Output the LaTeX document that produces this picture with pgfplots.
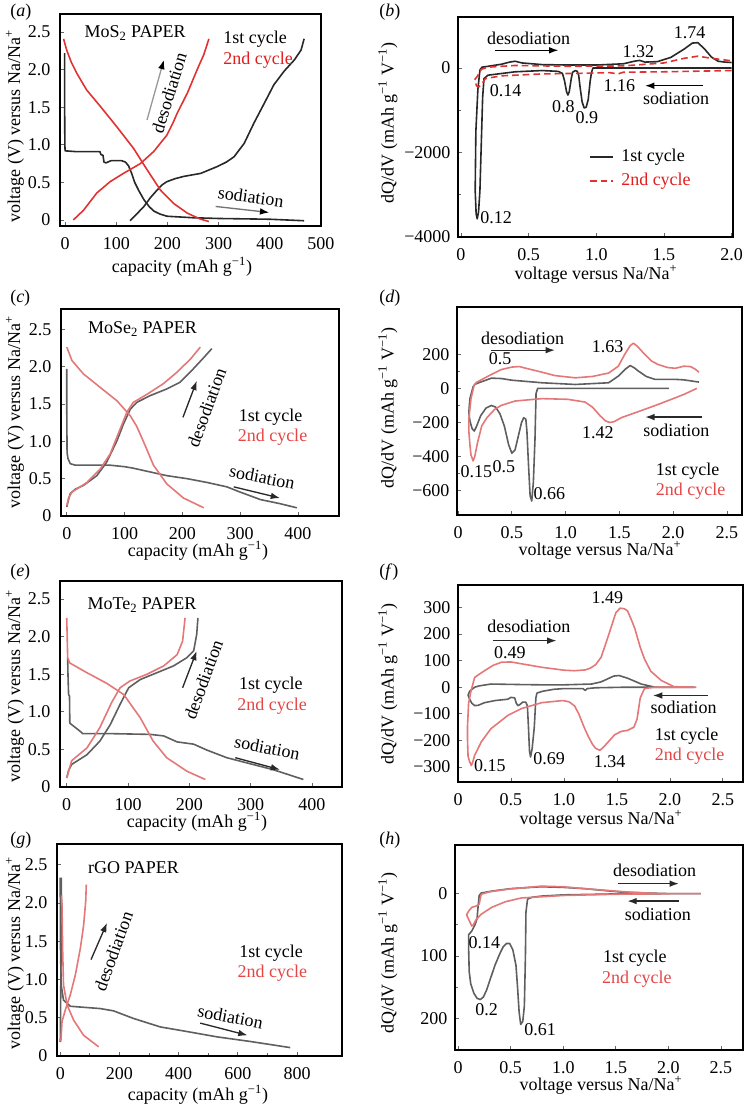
\documentclass[border=0pt]{standalone}
\usepackage{fontspec}
\setmainfont{Liberation Serif}
\usepackage{pgfplots}
\pgfplotsset{compat=1.18}
\usetikzlibrary{arrows.meta}
\definecolor{cblack}{RGB}{40,40,40}
\definecolor{cgray}{RGB}{95,95,95}
\definecolor{cred}{RGB}{225,50,50}
\definecolor{cpink}{RGB}{228,120,120}
\definecolor{tred}{RGB}{225,30,30}
\definecolor{tpink}{RGB}{228,70,70}
\pgfplotsset{panel/.style={scale only axis, anchor=south west,
  axis line style={line width=2pt}, tick align=inside,
  xtick pos=bottom, ytick pos=left, major tick length=3pt, minor tick length=2pt,
  tick style={black!60, line width=0.6pt}, clip mode=individual,
  /pgf/number format/assume math mode=true,
  every axis plot/.append style={line width=1.2pt, line join=round},
  xticklabel style={yshift=-4pt}, yticklabel style={xshift=-2.5pt}},
  rpanel/.style={panel, yticklabel style={xshift=1.5pt}}}
\tikzset{arr/.style={line width=1pt, -{Latex[length=7pt,width=5pt]}}}
\begin{document}
\fontsize{13.5}{16}\selectfont
\begin{tikzpicture}
\useasboundingbox (0,0) rectangle (561.75pt,-828pt);
% (a)
\begin{axis}[panel, at={(45pt,-169.5pt)}, width=195.75pt, height=159pt,
  xmin=-10, xmax=500, ymin=-0.08, ymax=2.74, xtick={0,100,200,300,400,500},
  ytick={0,0.5,1,1.5,2,2.5}, yticklabels={0,0.5,1.0,1.5,2.0,2.5}]
\addplot[cblack] coordinates {(-1,2.22) (-1,1.6) (-0.5,1.0) (0,0.92) (20,0.91) (50,0.91) (68,0.91) (70,0.87) (74,0.86) (76,0.77) (80,0.76) (90,0.79) (110,0.79) (118,0.77) (124,0.72) (130,0.62) (136,0.5) (144,0.39) (154,0.27) (164,0.18) (173,0.12) (185,0.08) (199,0.05) (250,0.03) (300,0.02) (400,0.01) (467,-0.01)};
\addplot[cblack] coordinates {(127,-0.01) (140,0.08) (154,0.18) (167,0.3) (180,0.4) (190,0.47) (199,0.51) (215,0.55) (232,0.58) (265,0.62) (297,0.71) (315,0.77) (330,0.84) (350,1.02) (369,1.29) (389,1.55) (408,1.8) (428,1.98) (448,2.13) (461,2.26) (467,2.41)};
\addplot[cred] coordinates {(-3,2.41) (3,2.26) (12,2.1) (23,1.95) (42,1.73) (69,1.51) (101,1.24) (134,0.95) (160,0.67) (186,0.40) (212,0.22) (239,0.09) (265,0.01) (281,-0.02)};
\addplot[cred] coordinates {(16,0) (36,0.13) (62,0.36) (88,0.51) (114,0.62) (147,0.75) (173,0.91) (199,1.13) (210,1.28) (219,1.42) (239,1.69) (258,2.0) (271,2.2) (281,2.41)};
\node[anchor=west] at (axis cs:26,2.49) {MoS\textsubscript{2} PAPER};
\node[anchor=west] at (axis cs:297,2.4) {1st cycle};
\node[anchor=west, text=tred] at (axis cs:297,2.12) {2nd cycle};
\node[rotate=73] at (axis cs:203,1.69) {desodiation};
\draw[line width=1pt, black!40, -{Latex[length=7pt,width=5pt,color=black]}] (axis cs:160,1.33) -- (axis cs:193,2.13);
\node[rotate=-8] at (axis cs:363,0.31) {sodiation};
\draw[line width=1pt, black!55, -{Latex[length=7pt,width=5pt,color=black]}] (axis cs:294,0.18) -- (axis cs:399,0.1);
\end{axis}
% (b)
\begin{axis}[rpanel, at={(343.5pt,-177.75pt)}, width=206.25pt, height=165pt,
  xmin=-0.022, xmax=2.01, ymin=-4000, ymax=1207, xtick={0,0.5,1,1.5,2},
  xticklabels={0,0.5,1.0,1.5,2.0}, ytick={-4000,-2000,0},
  yticklabels={−4000,−2000,0}, minor y tick num=1]
\addplot[cblack] coordinates {(2.00,0) (1.50,0) (0.975,0) (0.965,-100) (0.955,-300) (0.94,-750) (0.925,-930) (0.91,-945) (0.895,-800) (0.88,-450) (0.87,-180) (0.86,-80) (0.845,-60) (0.825,-100) (0.815,-250) (0.80,-560) (0.79,-640) (0.78,-560) (0.765,-300) (0.75,-130) (0.72,-80) (0.6,-60) (0.4,-90) (0.2,-170) (0.17,-250) (0.16,-700) (0.15,-1800) (0.14,-2900) (0.13,-3400) (0.12,-3570) (0.112,-3450) (0.105,-2900) (0.11,-1500) (0.125,-500) (0.14,-50) (0.155,20) (0.2,40) (0.3,90) (0.36,140) (0.4,160) (0.45,120) (0.6,80) (0.8,70) (1.0,70) (1.2,100) (1.28,160) (1.32,180) (1.36,140) (1.45,150) (1.55,250) (1.65,450) (1.71,590) (1.75,600) (1.8,450) (1.85,260) (1.9,160) (1.95,140) (2.0,130)};
\addplot[cred, dash pattern=on 5pt off 3pt] coordinates {(2.0,-60) (1.5,-90) (1.2,-100) (1.16,-140) (1.1,-110) (0.9,-125) (0.6,-140) (0.3,-185) (0.18,-250) (0.15,-400) (0.13,-450) (0.115,-420) (0.10,-280) (0.12,-200) (0.15,-30) (0.2,20) (0.4,60) (0.8,40) (1.2,50) (1.5,120) (1.65,230) (1.75,280) (1.85,230) (2.0,170)};
\node at (axis cs:0.50,711) {desodiation};
\draw[arr] (axis cs:0.25,419) -- (axis cs:0.72,419);
\node at (axis cs:1.69,830) {1.74};
\node at (axis cs:1.31,395) {1.32};
\node at (axis cs:0.33,-530) {0.14};
\node at (axis cs:0.756,-925) {0.8};
\node at (axis cs:0.93,-1186) {0.9};
\node at (axis cs:1.17,-419) {1.16};
\node at (axis cs:1.59,-727) {sodiation};
\draw[arr] (axis cs:1.79,-419) -- (axis cs:1.36,-419);
\node at (axis cs:0.26,-3534) {0.12};
\draw[cblack, line width=1.2pt] (axis cs:0.953,-2110) -- (axis cs:1.126,-2110);
\node[anchor=west] at (axis cs:1.138,-2110) {1st cycle};
\draw[cred, line width=1.2pt, dash pattern=on 5pt off 3pt] (axis cs:0.953,-2672) -- (axis cs:1.126,-2672);
\node[anchor=west, text=tred] at (axis cs:1.138,-2672) {2nd cycle};
\end{axis}
% (c)
\begin{axis}[panel, at={(45.75pt,-387pt)}, width=208.5pt, height=155.25pt,
  xmin=-10, xmax=471, ymin=0, ymax=2.77, xtick={0,100,200,300,400},
  ytick={0,0.5,1,1.5,2,2.5}, yticklabels={0,0.5,1.0,1.5,2.0,2.5}]
\addplot[cgray] coordinates {(0,1.97) (0,1.4) (0.5,0.85) (2,0.77) (6,0.70) (15,0.68) (23,0.68) (75,0.68) (100,0.66) (115,0.64) (144,0.59) (173,0.54) (208,0.50) (242,0.45) (277,0.39) (300,0.32) (335,0.22) (369,0.165) (398,0.11)};
\addplot[cgray] coordinates {(0,0.12) (3,0.22) (6,0.30) (15,0.36) (29,0.41) (52,0.54) (69,0.72) (87,1.01) (98,1.23) (110,1.43) (121,1.52) (144,1.61) (173,1.70) (196,1.79) (219,1.97) (237,2.12) (251,2.24)};
\addplot[cpink] coordinates {(0,2.26) (9,2.08) (29,1.90) (58,1.72) (87,1.54) (110,1.34) (121,1.2) (133,0.99) (150,0.68) (173,0.43) (202,0.24) (237,0.11)};
\addplot[cpink] coordinates {(0,0.14) (3,0.24) (9,0.32) (35,0.45) (58,0.63) (75,0.83) (89,1.10) (104,1.39) (115,1.52) (139,1.63) (167,1.77) (190,1.92) (214,2.10) (231,2.26)};
\node[anchor=west] at (axis cs:26,2.5) {MoSe\textsubscript{2} PAPER};
\node[anchor=west] at (axis cs:287,1.32) {1st cycle};
\node[anchor=west, text=tpink] at (axis cs:285,1.06) {2nd cycle};
\node[rotate=70] at (axis cs:242,1.45) {desodiation};
\draw[arr, cblack] (axis cs:201,1.32) -- (axis cs:225,1.81);
\node[rotate=-11] at (axis cs:338,0.52) {sodiation};
\draw[arr, cblack] (axis cs:289,0.39) -- (axis cs:369,0.24);
\end{axis}
% (d)
\begin{axis}[rpanel, at={(342.75pt,-386.25pt)}, width=213.75pt, height=156pt,
  xmin=-0.01, xmax=2.64, ymin=-742, ymax=477, xtick={0,0.5,1,1.5,2,2.5},
  xticklabels={0,0.5,1.0,1.5,2.0,2.5}, ytick={-600,-400,-200,0,200},
  yticklabels={−600,−400,−200,0,200}, minor y tick num=1]
\addplot[cgray] coordinates {(1.96,0) (1.2,0) (0.74,0) (0.725,-30) (0.715,-300) (0.70,-550) (0.685,-660) (0.67,-630) (0.655,-450) (0.64,-250) (0.63,-180) (0.61,-172) (0.59,-200) (0.56,-280) (0.53,-360) (0.50,-380) (0.47,-330) (0.43,-220) (0.39,-150) (0.35,-110) (0.31,-100) (0.26,-115) (0.21,-160) (0.17,-225) (0.15,-250) (0.13,-235) (0.11,-190) (0.10,-140) (0.11,-60) (0.14,10) (0.16,25) (0.2,35) (0.31,60) (0.4,58) (0.5,48) (0.78,33) (1.09,23) (1.40,33) (1.49,72) (1.56,115) (1.6,134) (1.64,120) (1.68,100) (1.75,70) (1.83,53) (2.02,53) (2.1,50) (2.24,37)};
\addplot[cpink] coordinates {(2.22,0) (2.1,-35) (2.02,-55) (1.86,-94) (1.65,-142) (1.52,-171) (1.45,-195) (1.41,-200) (1.37,-190) (1.32,-160) (1.25,-110) (1.18,-80) (1.02,-64) (0.78,-60) (0.53,-74) (0.4,-100) (0.34,-123) (0.27,-170) (0.22,-220) (0.18,-320) (0.155,-400) (0.14,-425) (0.12,-390) (0.11,-330) (0.10,-250) (0.10,-180) (0.12,-60) (0.15,20) (0.17,35) (0.25,62) (0.32,85) (0.40,110) (0.5,125) (0.57,128) (0.65,115) (0.78,95) (0.9,75) (1.09,62) (1.25,70) (1.40,90) (1.49,130) (1.55,200) (1.60,250) (1.63,265) (1.67,245) (1.72,210) (1.8,160) (1.86,140) (1.95,122) (2.02,118) (2.1,130) (2.16,128) (2.2,115) (2.24,95)};
\node at (axis cs:0.60,296) {desodiation};
\draw[arr, cblack] (axis cs:0.31,224) -- (axis cs:0.90,224);
\node at (axis cs:0.39,175) {0.5};
\node at (axis cs:1.39,247) {1.63};
\node at (axis cs:1.30,-259) {1.42};
\node at (axis cs:2.03,-243) {sodiation};
\draw[arr, cblack] (axis cs:2.27,-168) -- (axis cs:1.74,-168);
\node at (axis cs:0.17,-489) {0.15};
\node at (axis cs:0.425,-458) {0.5};
\node at (axis cs:0.85,-614) {0.66};
\node[anchor=west] at (axis cs:1.78,-483) {1st cycle};
\node[anchor=west, text=tpink] at (axis cs:1.78,-600) {2nd cycle};
\end{axis}
% (e)
\begin{axis}[panel, at={(45pt,-590.25pt)}, width=211.5pt, height=154.5pt,
  xmin=-11, xmax=449, ymin=0, ymax=2.74, xtick={0,100,200,300,400},
  ytick={0,0.5,1,1.5,2,2.5}, yticklabels={0,0.5,1.0,1.5,2.0,2.5}]
\addplot[cgray] coordinates {(1.5,1.72) (2,1.5) (3,1.23) (4.5,1.21) (5,0.85) (8,0.83) (22,0.74) (26,0.71) (71,0.71) (136,0.70) (158,0.68) (180,0.60) (207,0.57) (229,0.49) (261,0.39) (299,0.31) (337,0.23) (386,0.10)};
\addplot[cgray] coordinates {(0,0.12) (3,0.22) (8,0.30) (33,0.43) (54,0.61) (71,0.83) (87,1.10) (101,1.32) (120,1.43) (147,1.52) (174,1.61) (196,1.72) (207,1.81) (212,2.03) (214,2.25)};
\addplot[cpink] coordinates {(0,2.25) (1.5,1.72) (5,1.65) (33,1.52) (65,1.38) (93,1.23) (120,0.92) (141,0.61) (163,0.39) (196,0.21) (226,0.10)};
\addplot[cpink] coordinates {(0,0.12) (8,0.35) (33,0.52) (54,0.79) (73,1.12) (87,1.32) (103,1.41) (131,1.50) (158,1.61) (180,1.76) (189,1.94) (193,2.25)};
\node[anchor=west] at (axis cs:24,2.42) {MoTe\textsubscript{2} PAPER};
\node[anchor=west] at (axis cs:271,1.35) {1st cycle};
\node[anchor=west, text=tpink] at (axis cs:268,1.08) {2nd cycle};
\node[rotate=70] at (axis cs:223,1.43) {desodiation};
\draw[arr, cblack] (axis cs:189,1.32) -- (axis cs:212,1.81);
\node[rotate=-11] at (axis cs:327,0.52) {sodiation};
\draw[arr, cblack] (axis cs:275,0.39) -- (axis cs:348,0.23);
\end{axis}
% (f)
\begin{axis}[rpanel, at={(343.5pt,-586.5pt)}, width=213.75pt, height=147.75pt,
  xmin=0, xmax=2.69, ymin=-356, ymax=384, xtick={0,0.5,1,1.5,2,2.5},
  xticklabels={0,0.5,1.0,1.5,2.0,2.5}, ytick={-300,-200,-100,0,100,200,300},
  yticklabels={−300,−200,−100,0,100,200,300}]
\addplot[cgray] coordinates {(2.23,0) (1.9,0) (1.57,0) (1.3,-2) (1.22,-5) (1.2,-12) (1.18,-5) (1.0,-5) (0.9,-8) (0.8,-15) (0.76,-20) (0.745,-22) (0.735,-40) (0.72,-150) (0.70,-230) (0.685,-262) (0.675,-240) (0.665,-150) (0.655,-70) (0.64,-56) (0.61,-56) (0.585,-65) (0.565,-69) (0.55,-60) (0.535,-40) (0.5,-38) (0.47,-45) (0.35,-50) (0.25,-58) (0.19,-68) (0.157,-69) (0.13,-60) (0.11,-45) (0.095,-30) (0.11,-15) (0.157,0) (0.2,5) (0.31,12) (0.6,10) (0.79,9) (1.0,9) (1.26,12) (1.35,20) (1.41,31) (1.47,42) (1.52,44) (1.6,34) (1.73,12) (1.86,0) (2.23,0)};
\addplot[cpink] coordinates {(2.25,0) (1.85,0) (1.76,-5) (1.72,-40) (1.69,-120) (1.66,-150) (1.6,-162) (1.54,-166) (1.48,-178) (1.43,-200) (1.38,-222) (1.34,-237) (1.30,-230) (1.27,-215) (1.23,-185) (1.19,-150) (1.14,-100) (1.10,-70) (1.05,-55) (0.99,-50) (0.79,-58) (0.6,-80) (0.47,-106) (0.31,-156) (0.22,-205) (0.157,-256) (0.14,-280) (0.126,-294) (0.11,-280) (0.095,-260) (0.09,-200) (0.09,-144) (0.10,-60) (0.12,-19) (0.157,37) (0.25,62) (0.33,82) (0.41,94) (0.5,95) (0.6,88) (0.79,75) (1.0,64) (1.10,62) (1.2,65) (1.25,72) (1.3,85) (1.35,112) (1.40,170) (1.45,231) (1.49,280) (1.53,297) (1.57,295) (1.60,287) (1.64,250) (1.67,219) (1.72,150) (1.76,106) (1.82,60) (1.92,25) (2.04,2) (2.25,0)};
\node at (axis cs:1.41,337) {1.49};
\node at (axis cs:0.67,229) {desodiation};
\draw[arr, cblack] (axis cs:0.33,175) -- (axis cs:0.93,175);
\node at (axis cs:0.49,131) {0.49};
\node at (axis cs:2.13,-75) {sodiation};
\draw[arr, cblack] (axis cs:2.36,-31) -- (axis cs:1.84,-31);
\node[anchor=west] at (axis cs:1.80,-185) {1st cycle};
\node[anchor=west, text=tpink] at (axis cs:1.80,-259) {2nd cycle};
\node at (axis cs:0.86,-269) {0.69};
\node at (axis cs:1.43,-279) {1.34};
\node at (axis cs:0.30,-294) {0.15};
\end{axis}
% (g)
\begin{axis}[panel, at={(42.75pt,-792pt)}, width=213.75pt, height=159pt,
  xmin=-11, xmax=952, ymin=0, ymax=2.77, xtick={0,200,400,600,800}, minor x tick num=1,
  ytick={0,0.5,1,1.5,2,2.5}, yticklabels={0,0.5,1.0,1.5,2.0,2.5}]
\addplot[cgray] coordinates {(0,2.33) (0.5,1.5) (3,0.93) (11,0.73) (34,0.65) (135,0.62) (180,0.59) (248,0.49) (338,0.38) (428,0.32) (530,0.25) (642,0.19) (777,0.11)};
\addplot[cgray] coordinates {(0,0.18) (1,0.5) (2,1.0) (3,1.6) (4,2.0) (4,2.33)};
\addplot[cpink] coordinates {(4,2.1) (6,1.98) (8,1.4) (11,0.93) (23,0.67) (45,0.47) (79,0.27) (130,0.12)};
\addplot[cpink] coordinates {(2,0.19) (6,0.45) (17,0.60) (34,0.80) (51,1.06) (68,1.41) (79,1.71) (86,2.02) (88,2.24)};
\node[anchor=west] at (axis cs:73,2.46) {rGO PAPER};
\node[anchor=west] at (axis cs:584,1.34) {1st cycle};
\node[anchor=west, text=tpink] at (axis cs:578,1.08) {2nd cycle};
\node[rotate=70] at (axis cs:180,1.37) {desodiation};
\draw[arr, cblack] (axis cs:104,1.26) -- (axis cs:158,1.74);
\node[rotate=-11] at (axis cs:575,0.51) {sodiation};
\draw[arr, cblack] (axis cs:473,0.43) -- (axis cs:633,0.27);
\end{axis}
% (h)
\begin{axis}[rpanel, at={(341.25pt,-787.5pt)}, width=216pt, height=153.75pt,
  xmin=-0.03, xmax=2.71, ymin=-78, ymax=251, y dir=reverse,
  xtick={0,0.5,1,1.5,2,2.5}, xticklabels={0,0.5,1.0,1.5,2.0,2.5},
  ytick={0,100,200}, minor y tick num=1]
\addplot[cgray] coordinates {(2.09,0) (1.5,0.5) (1.0,2) (0.79,4) (0.70,6) (0.66,9) (0.645,30) (0.64,100) (0.63,180) (0.615,205) (0.595,210) (0.58,190) (0.565,150) (0.55,115) (0.52,90) (0.49,80) (0.46,80) (0.43,85) (0.40,95) (0.35,115) (0.31,135) (0.27,155) (0.24,166) (0.21,170) (0.18,168) (0.15,160) (0.12,145) (0.105,125) (0.1,90) (0.1,66) (0.13,60) (0.16,50) (0.18,40) (0.19,20) (0.2,3) (0.22,-1) (0.32,-4) (0.5,-8) (0.79,-11) (1.0,-10) (1.2,-8) (1.58,-2) (2.0,0) (2.31,0)};
\addplot[cpink] coordinates {(2.09,0) (1.5,1) (1.0,3) (0.6,7) (0.45,13) (0.32,22) (0.22,33) (0.17,42) (0.145,50) (0.13,52) (0.11,45) (0.08,34) (0.1,28) (0.13,22) (0.17,20) (0.2,17) (0.21,8) (0.22,1) (0.3,-3) (0.47,-7) (0.79,-12) (1.0,-11) (1.2,-8) (1.58,-3) (1.9,0) (2.31,0)};
\node at (axis cs:1.87,-37) {desodiation};
\draw[arr, cblack] (axis cs:1.52,-16) -- (axis cs:2.10,-16);
\node at (axis cs:1.90,33) {sodiation};
\draw[arr, cblack] (axis cs:2.10,12) -- (axis cs:1.61,12);
\node at (axis cs:0.25,79) {0.14};
\node at (axis cs:0.27,187) {0.2};
\node at (axis cs:0.78,219) {0.61};
\node[anchor=west] at (axis cs:1.32,104) {1st cycle};
\node[anchor=west, text=tpink] at (axis cs:1.31,137) {2nd cycle};
\end{axis}
% axis labels
\node[rotate=90] at (11.25pt,-94.5pt) {voltage (V) versus Na/Na\textsuperscript{+}};
\node[rotate=90] at (11.25pt,-309pt) {voltage (V) versus Na/Na\textsuperscript{+}};
\node[rotate=90] at (11.25pt,-514.5pt) {voltage (V) versus Na/Na\textsuperscript{+}};
\node[rotate=90] at (11.25pt,-714.75pt) {voltage (V) versus Na/Na\textsuperscript{+}};
\node[rotate=90] at (291pt,-92.25pt) {dQ/dV (mAh g\textsuperscript{−1} V\textsuperscript{−1})};
\node[rotate=90] at (291pt,-306pt) {dQ/dV (mAh g\textsuperscript{−1} V\textsuperscript{−1})};
\node[rotate=90] at (291pt,-513pt) {dQ/dV (mAh g\textsuperscript{−1} V\textsuperscript{−1})};
\node[rotate=90] at (291pt,-714.75pt) {dQ/dV (mAh g\textsuperscript{−1} V\textsuperscript{−1})};
\node at (136.5pt,-200.25pt) {capacity (mAh g\textsuperscript{−1})};
\node at (148.5pt,-413.25pt) {capacity (mAh g\textsuperscript{−1})};
\node at (147.75pt,-616.5pt) {capacity (mAh g\textsuperscript{−1})};
\node at (148.5pt,-821.25pt) {capacity (mAh g\textsuperscript{−1})};
\node at (447pt,-205.5pt) {voltage versus Na/Na\textsuperscript{+}};
\node at (450pt,-412.5pt) {voltage versus Na/Na\textsuperscript{+}};
\node at (450.75pt,-614.25pt) {voltage versus Na/Na\textsuperscript{+}};
\node at (450.75pt,-813.75pt) {voltage versus Na/Na\textsuperscript{+}};
% panel letters
\node[anchor=west] at (3pt,-9pt) {(\textit{a})};
\node[anchor=west] at (279.75pt,-9pt) {(\textit{b})};
\node[anchor=west] at (3pt,-223.5pt) {(\textit{c})};
\node[anchor=west] at (279.75pt,-223.5pt) {(\textit{d})};
\node[anchor=west] at (3pt,-429pt) {(\textit{e})};
\node[anchor=west] at (279.75pt,-429pt) {(\textit{f})};
\node[anchor=west] at (3pt,-630pt) {(\textit{g})};
\node[anchor=west] at (279.75pt,-630pt) {(\textit{h})};
\end{tikzpicture}
\end{document}
